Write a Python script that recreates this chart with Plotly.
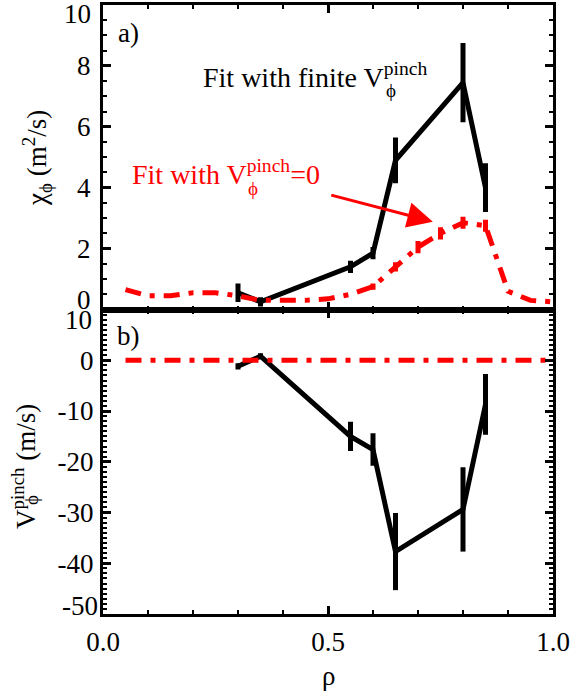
import plotly.graph_objects as go
from plotly.subplots import make_subplots

# ---------------- data ----------------
rho_fit = [0.30, 0.35, 0.55, 0.60, 0.65, 0.80, 0.85]
chi_fit = [0.55, 0.25, 1.40, 1.85, 4.90, 7.45, 4.00]
chi_fit_err = [0.30, 0.15, 0.20, 0.20, 0.75, 1.30, 0.80]
vpinch_fit = [-1.2, 0.8, -15.0, -17.6, -37.7, -29.4, -8.7]
vpinch_fit_err = [0.6, 0.6, 2.9, 3.2, 7.6, 8.3, 6.0]

rho_nopinch = [0.05, 0.10, 0.15, 0.20, 0.25, 0.30, 0.35, 0.40, 0.45, 0.50,
               0.55, 0.60, 0.65, 0.70, 0.75, 0.80, 0.85, 0.90, 0.95, 1.00]
chi_nopinch = [0.65, 0.45, 0.45, 0.55, 0.55, 0.45, 0.30, 0.30, 0.30, 0.35,
               0.50, 0.75, 1.40, 2.05, 2.50, 2.85, 2.75, 0.60, 0.30, 0.25]
chi_nopinch_err = [0, 0, 0, 0, 0, 0, 0, 0, 0, 0,
                   0, 0.10, 0.15, 0.20, 0.20, 0.20, 0.20, 0, 0, 0]
vpinch_nopinch = [0, 0, 0, 0, 0, 0, 0, 0, 0, 0,
                  0, 0, 0, 0, 0, 0, 0, 0, 0, 0]

x_tickvals = [0.0, 0.5, 1.0]
x_ticktext = ["0.0", "0.5", "1.0"]
chi_tickvals = [0, 2, 4, 6, 8, 10]
chi_ticktext = ["", "2", "4", "6", "8", ""]
v_tickvals = [-50, -40, -30, -20, -10, 0, 10]
v_ticktext = ["", "-40", "-30", "-20", "-10", "0", ""]

FONT = "Liberation Serif, Times New Roman, Times, DejaVu Serif, serif"
RED = "#ff0000"
PHI = "\u03d5"

# ---------------- figure ----------------
fig = make_subplots(rows=2, cols=1, shared_xaxes=True, vertical_spacing=0)

fig.add_trace(go.Scatter(
    x=rho_fit, y=chi_fit, mode="lines",
    line=dict(color="black", width=5),
    error_y=dict(type="data", array=chi_fit_err, color="black", thickness=5, width=0),
    showlegend=False), row=1, col=1)
fig.add_trace(go.Scatter(
    x=rho_nopinch, y=chi_nopinch, mode="lines",
    line=dict(color=RED, width=5, dash="16px,9px,5px,9px"),
    error_y=dict(type="data", array=chi_nopinch_err, color=RED, thickness=5, width=0),
    showlegend=False), row=1, col=1)

fig.add_trace(go.Scatter(
    x=rho_fit, y=vpinch_fit, mode="lines",
    line=dict(color="black", width=5),
    error_y=dict(type="data", array=vpinch_fit_err, color="black", thickness=5, width=0),
    showlegend=False), row=2, col=1)
fig.add_trace(go.Scatter(
    x=rho_nopinch, y=vpinch_nopinch, mode="lines",
    line=dict(color=RED, width=5, dash="16px,9px,5px,9px"),
    showlegend=False), row=2, col=1)

L, R, T, B = 103, 19, 5, 82
W, H = 572, 696
PW, PH = W - L - R, H - T - B


def px(x):
    return (x - L) / PW


def py(y):
    return (H - B - y) / PH


axis_common = dict(showline=True, linecolor="black", linewidth=3, mirror="allticks",
                   ticks="inside", tickcolor="black", tickwidth=2.5,
                   showgrid=False, zeroline=False, automargin=False,
                   tickfont=dict(family=FONT, size=27, color="black"))

fig.update_xaxes(range=[0, 1], tickvals=x_tickvals, ticktext=x_ticktext, ticklen=8,
                 minor=dict(dtick=0.1, ticklen=4, tickwidth=2, ticks="inside", tickcolor="black"),
                 **axis_common)
fig.update_xaxes(showticklabels=False, row=1, col=1)
fig.update_xaxes(showticklabels=True, ticklabelstandoff=2, row=2, col=1)

fig.update_yaxes(range=[0, 10], tickvals=chi_tickvals, ticktext=chi_ticktext, ticklen=8,
                 minor=dict(dtick=0.5, ticklen=4, tickwidth=2, ticks="inside", tickcolor="black"),
                 domain=[0.5, 1.0], ticklabelstandoff=4, row=1, col=1, **axis_common)
fig.update_yaxes(range=[-50, 10], tickvals=v_tickvals, ticktext=v_ticktext, ticklen=8,
                 minor=dict(dtick=1, ticklen=4, tickwidth=2, ticks="inside", tickcolor="black"),
                 domain=[0.0, 0.5], ticklabelstandoff=1, row=2, col=1, **axis_common)

ann = []


def text(x, y, s, size=27, color="black", xanchor="center", yanchor="middle", angle=0):
    ann.append(dict(x=px(x), y=py(y), xref="paper", yref="paper", text=s, showarrow=False,
                    xanchor=xanchor, yanchor=yanchor, textangle=angle,
                    font=dict(family=FONT, size=size, color=color)))


# end tick labels (shifted inwards as in the original)
text(93, 14, "10", xanchor="right")
text(93, 300, "0", xanchor="right")
text(94, 320, "10", xanchor="right")
text(100, 606, "-50", xanchor="right")

# panel labels
text(128, 33, "a)")
text(128, 336, "b)")

# curve labels
text(201, 95, "Fit with finite V<sup>pinch</sup>", size=28, xanchor="left", yanchor="bottom")
text(391, 90, PHI, size=19)
text(130, 192, "Fit with V<sup>pinch</sup>=0", size=28, color=RED, xanchor="left", yanchor="bottom")
text(253, 189, PHI, size=19, color=RED)

# axis titles
text(37, 158, "χ<sub>" + PHI + "</sub> (m<sup>2</sup>/s)", angle=-90)
text(24, 467, "V<sup>pinch</sup> (m/s)", angle=-90)
text(31, 500, PHI, size=19, angle=-90)
text(328, 676, "ρ")

# arrow
ann.append(dict(x=0.733, y=2.885, xref="x", yref="y", ax=0.504, ay=3.77, axref="x", ayref="y",
                text="", showarrow=True, arrowhead=2, arrowsize=1.7, arrowwidth=3,
                arrowcolor=RED, standoff=0))

fig.update_layout(width=W, height=H, margin=dict(l=L, r=R, t=T, b=B),
                  paper_bgcolor="white", plot_bgcolor="white",
                  annotations=ann, showlegend=False,
                  font=dict(family=FONT, size=27, color="black"))

fig.write_html("out.html", config={"displayModeBar": False},
               post_script="document.body.style.margin='0';document.body.style.overflow='hidden';")
